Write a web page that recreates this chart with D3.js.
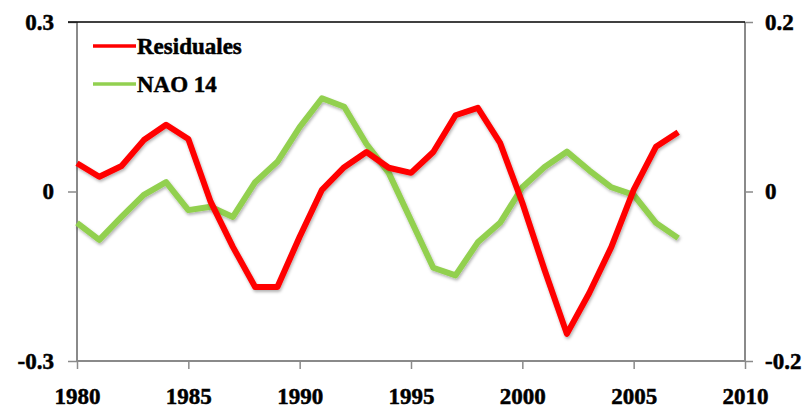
<!DOCTYPE html>
<html>
<head>
<meta charset="utf-8">
<script src="https://cdn.jsdelivr.net/npm/d3@7/dist/d3.min.js"></script>
<style>
  html, body { margin: 0; padding: 0; background: #fff; }
  svg { display: block; }
  svg text { font-family: "Liberation Serif", "Tinos", "DejaVu Serif", "Times New Roman", serif !important; font-weight: bold; fill: #000; stroke: #000; stroke-width: 0.5px; }
</style>
</head>
<body>
<svg id="chart" width="807" height="409"></svg>
<script>
// Years on the horizontal axis
const years = d3.range(1980, 2008);

// Residuales (left axis)
const residuales = [
  0.050, 0.026, 0.045, 0.091, 0.118, 0.093, -0.018, -0.098, -0.169, -0.169,
  -0.080, 0.003, 0.043, 0.070, 0.042, 0.033, 0.070, 0.135, 0.148, 0.086,
  -0.020, -0.139, -0.252, -0.180, -0.098, 0.003, 0.079, 0.105
];

// NAO 14 (right axis)
const nao14 = [
  -0.037, -0.057, -0.030, -0.004, 0.011, -0.022, -0.018, -0.030, 0.011, 0.035,
  0.076, 0.110, 0.100, 0.056, 0.022, -0.034, -0.090, -0.099, -0.060, -0.037,
  0.005, 0.029, 0.047, 0.025, 0.005, -0.004, -0.037, -0.055
];

const xTicks = [1980, 1985, 1990, 1995, 2000, 2005, 2010];
const leftTicks = [-0.3, 0, 0.3];
const rightTicks = [-0.2, 0, 0.2];

const seriesNames = ["Residuales", "NAO 14"];
const seriesColors = ["#ff0000", "#92d050"];

const svg = d3.select("#chart");
const plot = { left: 77, right: 745, top: 22, bottom: 361 };

const x = d3.scaleLinear().domain([1980, 2010]).range([plot.left, plot.right]);
const yL = d3.scaleLinear().domain([-0.3, 0.3]).range([plot.bottom, plot.top]);
const yR = d3.scaleLinear().domain([-0.2, 0.2]).range([plot.bottom, plot.top]);

// soft drop shadow under the series lines
const defs = svg.append("defs");
const f = defs.append("filter").attr("id", "shadow")
  .attr("x", "-5%").attr("y", "-5%").attr("width", "110%").attr("height", "110%");
f.append("feDropShadow").attr("dx", 1).attr("dy", 2).attr("stdDeviation", 1.5)
  .attr("flood-color", "#000").attr("flood-opacity", 0.3);

const fmt = v => v === 0 ? "0" : d3.format(".1f")(v).replace("−", "-");

// Left axis
const leftAxis = svg.append("g").attr("transform", `translate(${plot.left},0)`)
  .call(d3.axisLeft(yL).tickValues(leftTicks).tickSize(9).tickPadding(14).tickFormat(fmt));

// Right axis
const rightAxis = svg.append("g").attr("transform", `translate(${plot.right},0)`)
  .call(d3.axisRight(yR).tickValues(rightTicks).tickSize(8).tickPadding(12).tickFormat(fmt));

// Bottom axis
const bottomAxis = svg.append("g").attr("transform", `translate(0,${plot.bottom})`)
  .call(d3.axisBottom(x).tickValues(xTicks).tickSize(8).tickPadding(19).tickFormat(d3.format("d")));

[leftAxis, rightAxis, bottomAxis].forEach(g => {
  g.attr("font-family", null).attr("font-size", null);
  g.select(".domain").attr("stroke", "#8a8a8a").attr("stroke-width", 2);
  g.selectAll(".tick line").attr("stroke", "#8a8a8a").attr("stroke-width", 1.5);
  g.selectAll(".tick text").style("font-size", "23px").attr("fill", "#000");
});
leftAxis.select(".domain").attr("d", `M0,${plot.top}V${plot.bottom}`);
rightAxis.select(".domain").attr("d", `M0,${plot.top}V${plot.bottom}`);
bottomAxis.select(".domain").attr("d", `M${plot.left},0H${plot.right}`);

// top border of the plot area
svg.append("line")
  .attr("x1", plot.left - 9).attr("x2", plot.right)
  .attr("y1", plot.top).attr("y2", plot.top)
  .attr("stroke", "#000").attr("stroke-width", 1.5);

// Series lines
const lineL = d3.line().x((d, i) => x(years[i])).y(d => yL(d));
const lineR = d3.line().x((d, i) => x(years[i])).y(d => yR(d));

svg.append("path").datum(nao14)
  .attr("d", lineR).attr("fill", "none")
  .attr("stroke", seriesColors[1]).attr("stroke-width", 6)
  .attr("stroke-linejoin", "round").attr("filter", "url(#shadow)");

svg.append("path").datum(residuales)
  .attr("d", lineL).attr("fill", "none")
  .attr("stroke", seriesColors[0]).attr("stroke-width", 6)
  .attr("stroke-linejoin", "round").attr("filter", "url(#shadow)");

// Legend
const legend = svg.append("g");
const legendY = [46, 84];
seriesNames.forEach((name, i) => {
  legend.append("line")
    .attr("x1", 93).attr("x2", 136)
    .attr("y1", legendY[i]).attr("y2", legendY[i])
    .attr("stroke", seriesColors[i]).attr("stroke-width", 3.5);
  legend.append("text")
    .attr("x", 137).attr("y", legendY[i])
    .attr("dy", "0.35em")
    .style("font-size", "23px")
    .text(name);
});
</script>
</body>
</html>
